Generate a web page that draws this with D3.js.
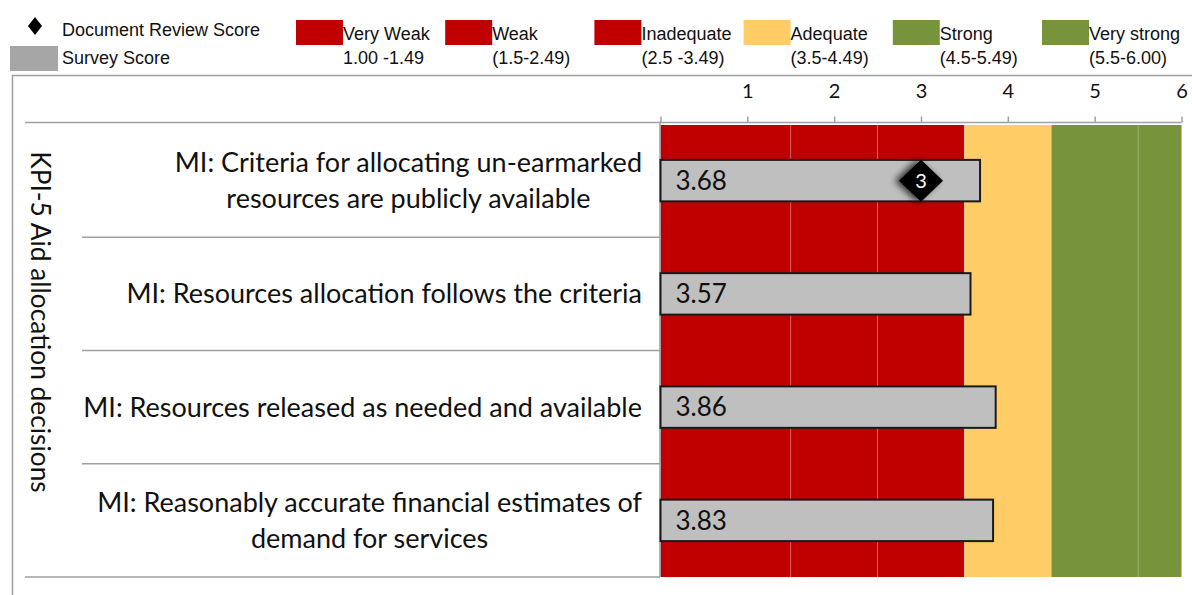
<!DOCTYPE html>
<html><head><meta charset="utf-8">
<script src="https://cdn.jsdelivr.net/npm/d3@7"></script>
<style>
html,body{margin:0;padding:0;background:#fff;}
svg{display:block;}
</style></head>
<body>
<svg id="chart" width="1192" height="595"></svg>
<script>
// ---- data ----
const groupTitle = "KPI-5 Aid allocation decisions";
const categories = [
  "MI: Criteria for allocating un-earmarked\nresources are publicly available",
  "MI: Resources allocation follows the criteria",
  "MI: Resources released as needed and available",
  "MI: Reasonably accurate financial estimates of\ndemand for services"
];
const surveyScores = [3.68, 3.57, 3.86, 3.83];
const documentScores = [3, null, null, null];
const bandNames = ["Very Weak", "Weak", "Inadequate", "Adequate", "Strong", "Very strong"];
const bandRanges = ["1.00 -1.49", "(1.5-2.49)", "(2.5 -3.49)", "(3.5-4.49)", "(4.5-5.49)", "(5.5-6.00)"];
const bandStarts = [0, 1.5, 2.5, 3.5, 4.5, 5.5];
const bandEnds = [1.5, 2.5, 3.5, 4.5, 5.5, 6];
const bandColors = ["#C00000", "#C00000", "#C00000", "#FFCC66", "#77933C", "#77933C"];
const tickValues = [0, 1, 2, 3, 4, 5, 6];
const tickLabels = ["", "1", "2", "3", "4", "5", "6"];
const legendSeries = ["Document Review Score", "Survey Score"];

// ---- layout ----
const svg = d3.select("#chart");
const plotL = 660.5, plotR = 1181.5, plotT = 124, plotB = 577;
const x = d3.scaleLinear().domain([0, 6]).range([plotL, plotR]);
const y = d3.scaleBand().domain(categories).range([plotT, plotB]).padding(0);
const barH = y.bandwidth() * 0.366;
const gridCol = "#A0A0A0";
const chartFont = "Lato, 'Open Sans', sans-serif";
const legendFont = "'Liberation Sans', Arial, sans-serif";
const legendSize = 18;

const defs = svg.append("defs");
const f = defs.append("filter").attr("id", "shadow").attr("x", "-60%").attr("y", "-60%").attr("width", "220%").attr("height", "220%");
f.append("feGaussianBlur").attr("in", "SourceAlpha").attr("stdDeviation", 3.5).attr("result", "b");
f.append("feOffset").attr("in", "b").attr("dx", -4).attr("dy", 0).attr("result", "o");
f.append("feComponentTransfer").attr("in", "o").attr("result", "o2")
  .append("feFuncA").attr("type", "linear").attr("slope", 0.8);
const m = f.append("feMerge");
m.append("feMergeNode").attr("in", "o2");
m.append("feMergeNode").attr("in", "SourceGraphic");

// outer frame
svg.append("rect").attr("x", 12.5).attr("y", 75.5).attr("width", 1200).attr("height", 600)
  .attr("fill", "none").attr("stroke", gridCol).attr("stroke-width", 1.5);

// ---- legend ----
const lg = svg.append("g");
lg.append("path").attr("d", "M0,-9 L7,0 L0,9 L-7,0 Z")
  .attr("transform", "translate(35,26)").attr("fill", "#000");
lg.append("text").attr("x", 62).attr("y", 36).attr("font-family", legendFont).attr("font-size", legendSize)
  .attr("fill", "#111").text(legendSeries[0]);
lg.append("rect").attr("x", 10).attr("y", 46).attr("width", 48).attr("height", 25).attr("fill", "#A6A6A6");
lg.append("text").attr("x", 62).attr("y", 64).attr("font-family", legendFont).attr("font-size", legendSize)
  .attr("fill", "#111").text(legendSeries[1]);

const legX = d3.scaleLinear().domain([0, 5]).range([296, 1042]);
bandNames.forEach((n, i) => {
  const gx = legX(i);
  lg.append("rect").attr("x", gx).attr("y", 20).attr("width", 47).attr("height", 25).attr("fill", bandColors[i]);
  lg.append("text").attr("x", gx + 47).attr("y", 40).attr("font-family", legendFont).attr("font-size", legendSize)
    .attr("fill", "#111").text(n);
  lg.append("text").attr("x", gx + 47).attr("y", 64).attr("font-family", legendFont).attr("font-size", legendSize)
    .attr("fill", "#111").text(bandRanges[i]);
});

// ---- background bands ----
const bands = svg.append("g");
bandStarts.forEach((s, i) => {
  bands.append("rect").attr("x", x(s)).attr("y", plotT + 1).attr("width", x(bandEnds[i]) - x(s))
    .attr("height", plotB - plotT - 1).attr("fill", bandColors[i]);
});
bandStarts.slice(1).forEach(s => {
  bands.append("line").attr("x1", x(s)).attr("x2", x(s)).attr("y1", plotT + 1).attr("y2", plotB)
    .attr("stroke", "rgba(255,255,255,0.22)").attr("stroke-width", 1);
});

// ---- axis ----
const axis = d3.axisTop(x).tickValues(tickValues).tickSize(6).tickPadding(19)
  .tickFormat((d, i) => tickLabels[i]);
const ag = svg.append("g").attr("transform", `translate(0,${plotT - 1.5})`).call(axis);
ag.select(".domain").remove();
ag.selectAll(".tick line").attr("stroke", gridCol).attr("stroke-width", 1.5);
ag.selectAll(".tick text").attr("font-family", chartFont).attr("font-size", 20).attr("fill", "#111");
svg.append("line").attr("x1", 25).attr("x2", plotR).attr("y1", plotT - 1.5).attr("y2", plotT - 1.5)
  .attr("stroke", gridCol).attr("stroke-width", 1.5);
svg.append("line").attr("x1", plotL - 0.5).attr("x2", plotL - 0.5).attr("y1", plotT - 1.5).attr("y2", plotB)
  .attr("stroke", gridCol).attr("stroke-width", 1.5);

// category separators
categories.forEach((c, i) => {
  const yy = y(c) + y.bandwidth();
  const last = i === categories.length - 1;
  svg.append("line").attr("x1", last ? 25 : 82).attr("x2", plotL - 0.5).attr("y1", yy).attr("y2", yy)
    .attr("stroke", gridCol).attr("stroke-width", 1.5);
});

// category labels
const labG = svg.append("g");
categories.forEach(c => {
  const lines = c.split("\n");
  const cy = y(c) + y.bandwidth() / 2;
  const lh = 36;
  const t = labG.append("text").attr("font-family", chartFont).attr("font-size", 27).attr("fill", "#111")
    .attr("text-anchor", "middle");
  const spans = lines.map((ln, k) => t.append("tspan").attr("y", cy + (k - (lines.length - 1) / 2) * lh)
    .attr("dy", "0.35em").text(ln));
  const w = d3.max(spans, s => s.node().getComputedTextLength());
  spans.forEach(s => s.attr("x", 642 - w / 2));
});

// group title
svg.append("text").attr("transform", `translate(40,322) rotate(90)`)
  .attr("text-anchor", "middle").attr("dy", "0.35em").attr("font-family", chartFont).attr("font-size", 26.3)
  .attr("fill", "#111").text(groupTitle);

// ---- bars ----
const barG = svg.append("g");
categories.forEach((c, i) => {
  const cy = y(c) + y.bandwidth() / 2;
  barG.append("rect").attr("x", x(0)).attr("y", cy - barH / 2).attr("width", x(surveyScores[i]) - x(0))
    .attr("height", barH).attr("fill", "#BFBFBF").attr("stroke", "#1a1a1a").attr("stroke-width", 2);
  barG.append("text").attr("x", x(0) + 15).attr("y", cy).attr("dy", "0.36em")
    .attr("font-family", chartFont).attr("font-size", 26).attr("fill", "#111").text(surveyScores[i].toFixed(2));
});

// ---- document review diamonds ----
categories.forEach((c, i) => {
  const v = documentScores[i];
  if (v == null) return;
  const cy = y(c) + y.bandwidth() / 2;
  const g = svg.append("g").attr("transform", `translate(${x(v)},${cy})`);
  g.append("path").attr("d", "M0,-21 L22,0 L0,21 L-22,0 Z").attr("fill", "#000").attr("filter", "url(#shadow)");
  g.append("text").attr("text-anchor", "middle").attr("dy", "0.36em").attr("font-family", chartFont)
    .attr("font-size", 20).attr("fill", "#fff").text(v);
});
</script>
</body></html>
